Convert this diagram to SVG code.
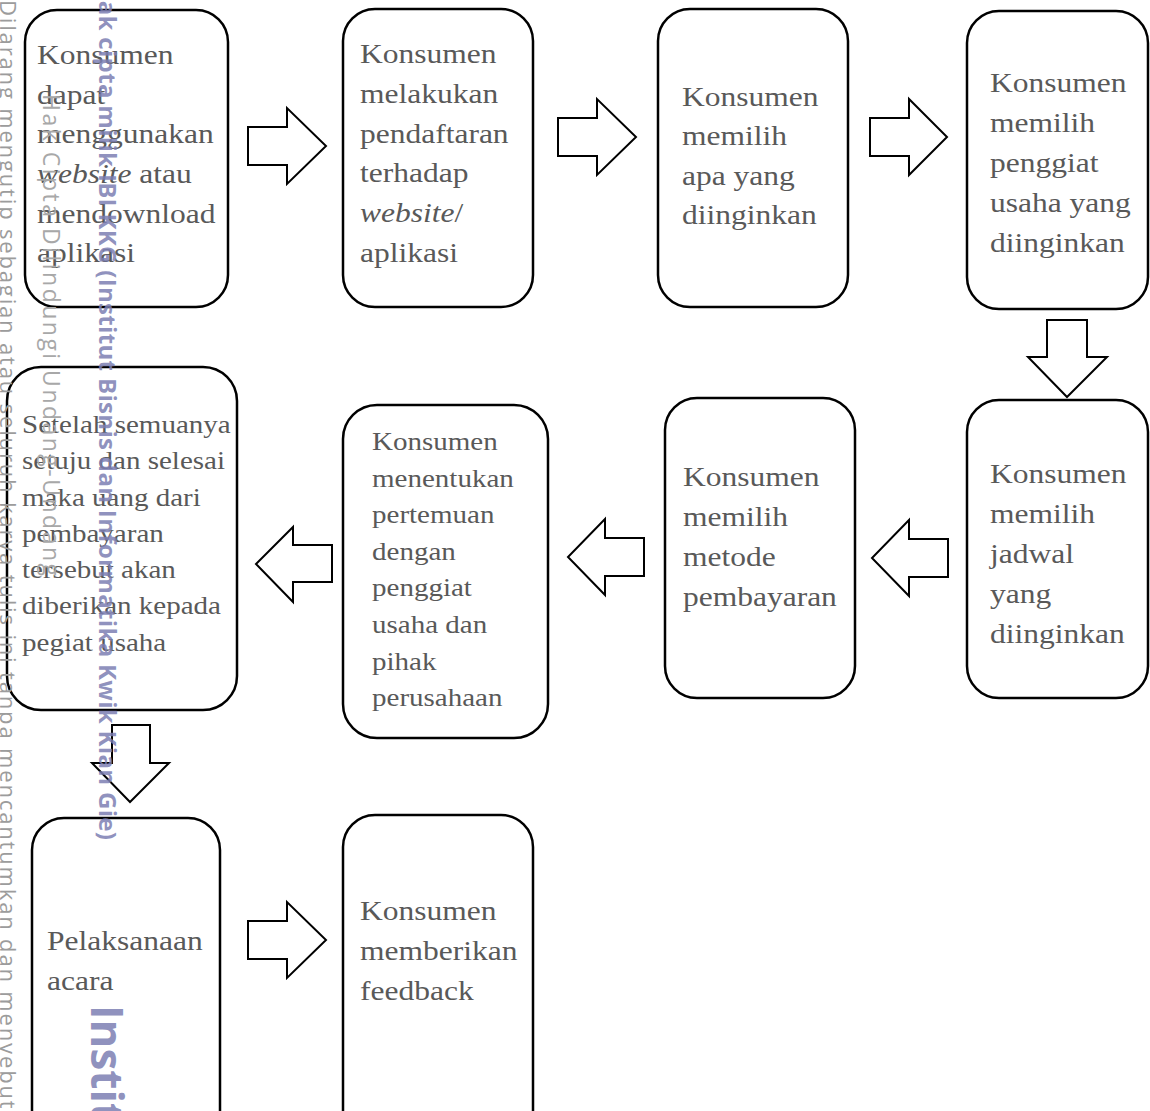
<svg xmlns="http://www.w3.org/2000/svg" width="1150" height="1111" viewBox="0 0 1150 1111">
<style>
.box{fill:#fff;stroke:#000;stroke-width:2.5}
.arr{fill:#fff;stroke:#000;stroke-width:2;stroke-linejoin:miter}
.t{font-family:"Liberation Serif","Times New Roman",serif;fill:#595959}
.L{font-size:26.7px}
.S{font-size:24.6px}
.i{font-style:italic}
.w1{font-family:"Open Sans","DejaVu Sans",sans-serif;font-size:22px;fill:#9c9c9c}
.w2{font-family:"Open Sans","DejaVu Sans",sans-serif;font-size:23px;fill:#a8a8a8}
.w3{font-family:"Open Sans","DejaVu Sans",sans-serif;font-weight:bold;fill:#7c7eb2;fill-opacity:0.85}
</style>
<rect width="1150" height="1111" fill="#fff"/>

<g id="connectors">
<path class="arr" d="M248,127 H287 V108 L326,146 L287,184 V165 H248 Z"/>
<path class="arr" d="M558,118 H597 V99 L636,137 L597,175 V156 H558 Z"/>
<path class="arr" d="M870,118 H909 V99 L947,137 L909,175 V156 H870 Z"/>
<path class="arr" d="M1047,320 H1087 V357 H1107 L1067,397 L1028,357 H1047 Z"/>
<path class="arr" d="M948,539 H909 V520 L872,558 L909,596 V577 H948 Z"/>
<path class="arr" d="M644,538 H605 V519 L568,557 L605,595 V576 H644 Z"/>
<path class="arr" d="M332,545 H293 V527 L256,564 L293,602 V582 H332 Z"/>
<path class="arr" d="M112,725 H150 V763 H169 L130,802 L92,763 H112 Z"/>
<path class="arr" d="M248,921 H287 V902 L326,940 L287,978 V959 H248 Z"/>
</g>

<g id="n1"><rect class="box" x="25" y="10" width="203" height="297" rx="32"/>
<text class="t L" transform="translate(37,64) scale(1.18,1)"><tspan x="0">Konsumen</tspan><tspan x="0" dy="39.7">dapat</tspan><tspan x="0" dy="39.7">menggunakan</tspan><tspan x="0" dy="39.7"><tspan class="i">website</tspan> atau</tspan><tspan x="0" dy="39.7">mendownload</tspan><tspan x="0" dy="39.7">aplikasi</tspan></text></g>

<g id="n2"><rect class="box" x="343" y="9" width="190" height="298" rx="32"/>
<text class="t L" transform="translate(360,63) scale(1.18,1)"><tspan x="0">Konsumen</tspan><tspan x="0" dy="39.8">melakukan</tspan><tspan x="0" dy="39.8">pendaftaran</tspan><tspan x="0" dy="39.8">terhadap</tspan><tspan x="0" dy="39.8"><tspan class="i">website</tspan>/</tspan><tspan x="0" dy="39.8">aplikasi</tspan></text></g>

<g id="n3"><rect class="box" x="658" y="9" width="190" height="298" rx="32"/>
<text class="t L" transform="translate(682,106) scale(1.18,1)"><tspan x="0">Konsumen</tspan><tspan x="0" dy="39.5">memilih</tspan><tspan x="0" dy="39.5">apa yang</tspan><tspan x="0" dy="39.5">diinginkan</tspan></text></g>

<g id="n4"><rect class="box" x="967" y="11" width="181" height="298" rx="32"/>
<text class="t L" transform="translate(990,92) scale(1.18,1)"><tspan x="0">Konsumen</tspan><tspan x="0" dy="40">memilih</tspan><tspan x="0" dy="40">penggiat</tspan><tspan x="0" dy="40">usaha yang</tspan><tspan x="0" dy="40">diinginkan</tspan></text></g>

<g id="n5"><rect class="box" x="7" y="367" width="230" height="343" rx="34"/>
<text class="t S" transform="translate(22,433) scale(1.18,1)"><tspan x="0">Setelah semuanya</tspan><tspan x="0" dy="36.3">setuju dan selesai</tspan><tspan x="0" dy="36.3">maka uang dari</tspan><tspan x="0" dy="36.3">pembayaran</tspan><tspan x="0" dy="36.3">tersebut akan</tspan><tspan x="0" dy="36.3">diberikan kepada</tspan><tspan x="0" dy="36.3">pegiat usaha</tspan></text></g>

<g id="n6"><rect class="box" x="343" y="405" width="205" height="333" rx="34"/>
<text class="t S" transform="translate(372,450) scale(1.18,1)"><tspan x="0">Konsumen</tspan><tspan x="0" dy="36.6">menentukan</tspan><tspan x="0" dy="36.6">pertemuan</tspan><tspan x="0" dy="36.6">dengan</tspan><tspan x="0" dy="36.6">penggiat</tspan><tspan x="0" dy="36.6">usaha dan</tspan><tspan x="0" dy="36.6">pihak</tspan><tspan x="0" dy="36.6">perusahaan</tspan></text></g>

<g id="n7"><rect class="box" x="665" y="398" width="190" height="300" rx="32"/>
<text class="t L" transform="translate(683,486) scale(1.18,1)"><tspan x="0">Konsumen</tspan><tspan x="0" dy="40">memilih</tspan><tspan x="0" dy="40">metode</tspan><tspan x="0" dy="40">pembayaran</tspan></text></g>

<g id="n8"><rect class="box" x="967" y="400" width="181" height="298" rx="32"/>
<text class="t L" transform="translate(990,483) scale(1.18,1)"><tspan x="0">Konsumen</tspan><tspan x="0" dy="40">memilih</tspan><tspan x="0" dy="40">jadwal</tspan><tspan x="0" dy="40">yang</tspan><tspan x="0" dy="40">diinginkan</tspan></text></g>

<g id="n9"><rect class="box" x="32" y="818" width="188" height="330" rx="32"/>
<text class="t L" transform="translate(47,950) scale(1.18,1)"><tspan x="0">Pelaksanaan</tspan><tspan x="0" dy="40">acara</tspan></text></g>

<g id="n10"><rect class="box" x="343" y="815" width="190" height="330" rx="32"/>
<text class="t L" transform="translate(360,920) scale(1.18,1)"><tspan x="0">Konsumen</tspan><tspan x="0" dy="40">memberikan</tspan><tspan x="0" dy="40">feedback</tspan></text></g>

<g id="watermark">
<text class="w1" transform="translate(0,0) rotate(90)" textLength="1122" lengthAdjust="spacing">Dilarang mengutip sebagian atau seluruh karya tulis ini tanpa mencantumkan dan menyebutk</text>
<text class="w2" transform="translate(43,94) rotate(90)" textLength="482" lengthAdjust="spacing">Hak Cipta Dilindungi Undang-Undang</text>
<text class="w3" font-size="24" transform="translate(99,-18) rotate(90)" textLength="858" lengthAdjust="spacing">Hak cipta milik IBI KKG (Institut Bisnis dan Informatika Kwik Kian Gie)</text>
<text class="w3" font-size="44" transform="translate(91,1005) rotate(90)">Institut</text>
</g>
</svg>
